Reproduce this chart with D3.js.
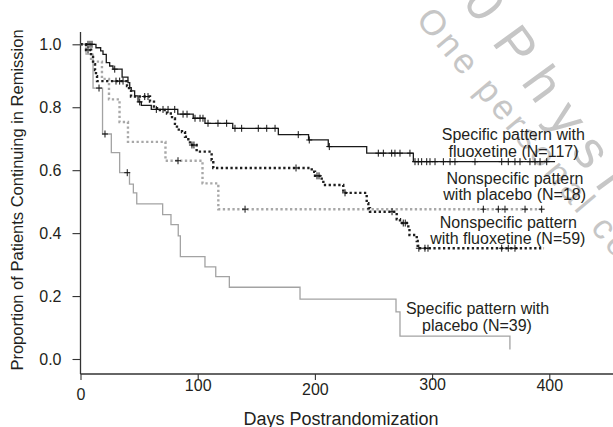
<!DOCTYPE html>
<html><head><meta charset="utf-8">
<script src="https://cdn.jsdelivr.net/npm/d3@7"></script>
<style>
body{margin:0;background:#fff}
svg{display:block}
text{font-family:"Liberation Sans",Arial,Helvetica,sans-serif;fill:#231f20}
</style>
</head><body>
<svg id="c" width="613" height="427"></svg>
<script>
// ---------- data ----------
const xTicks = [0, 100, 200, 300, 400];
const yTicks = [0, 0.2, 0.4, 0.6, 0.8, 1.0];

// Specific pattern with fluoxetine (N=117)
const specFluoxTimes = [0, 13.2, 17.2, 19.2, 22.0, 24.9, 27.7, 35.5, 40.5, 42.0, 43.3, 46.2, 49.1, 51.9, 60.4, 83.0, 96.2, 106.2, 129.9, 168.8, 194.6, 211.4, 244.2, 284.0, 404.9];
const specFluoxSurv  = [1, 0.989, 0.979, 0.968, 0.942, 0.931, 0.921, 0.896, 0.878, 0.862, 0.852, 0.836, 0.817, 0.806, 0.793, 0.778, 0.765, 0.749, 0.733, 0.713, 0.696, 0.675, 0.654, 0.627, 0.627];
const specFluoxCensor = [6.4, 8.1, 9.8, 29.2, 50.5, 64.7, 70.4, 74.7, 80.4, 87.5, 90.9, 97.7, 102.0, 104.5, 108.8, 117.3, 124.7, 131.8, 137.5, 151.7, 158.9, 166.0, 185.8, 195.2, 212.3, 254.1, 258.4, 265.5, 268.3, 272.6, 281.1, 285.4, 288.2, 291.1, 295.4, 298.2, 302.5, 309.6, 315.3, 319.5, 336.6, 359.4, 365.0, 370.7, 375.0, 383.5, 387.8, 392.1, 397.8];

// Nonspecific pattern with placebo (N=18)
const nonspecPlacTimes = [0, 9.0, 18.3, 24.3, 33.3, 40.5, 72.5, 104.1, 117.6, 395.5];
const nonspecPlacSurv  = [1, 0.945, 0.890, 0.825, 0.753, 0.690, 0.630, 0.558, 0.476, 0.476];
const nonspecPlacCensor = [83.2, 140.4, 343.7, 356.5, 362.2, 379.3, 393.5];

// Nonspecific pattern with fluoxetine (N=59)
const nonspecFluoxTimes = [0, 4.7, 9.0, 10.7, 12.4, 13.2, 14.1, 39.7, 41.4, 43.1, 59.3, 62.7, 65.3, 73.8, 78.1, 80.6, 82.3, 86.6, 89.2, 92.0, 93.4, 99.1, 111.9, 113.3, 197.3, 200.1, 205.8, 207.2, 224.2, 244.2, 245.6, 247.0, 269.8, 272.6, 279.7, 280.7, 286.9, 287.7, 395.5];
const nonspecFluoxSurv  = [1, 0.982, 0.960, 0.937, 0.918, 0.899, 0.883, 0.867, 0.852, 0.834, 0.818, 0.802, 0.791, 0.780, 0.764, 0.747, 0.729, 0.721, 0.706, 0.694, 0.680, 0.659, 0.632, 0.607, 0.595, 0.582, 0.569, 0.553, 0.528, 0.495, 0.479, 0.468, 0.444, 0.432, 0.416, 0.394, 0.375, 0.352, 0.352];
const nonspecFluoxCensor = [6.4, 30.3, 33.4, 36.3, 54.8, 57.6, 95.1, 96.8, 183.9, 201.8, 203.5, 225.7, 265.8, 275.4, 277.1, 288.7, 293.9, 296.5, 359.4, 365.0, 370.7];

// Specific pattern with placebo (N=39)
const specPlacTimes = [0, 4.7, 10.7, 18.8, 26.3, 33.4, 41.8, 45.1, 48.0, 70.1, 77.2, 83.4, 85.2, 106.2, 115.4, 127.0, 187.3, 269.2, 272.6, 366.4];
const specPlacSurv  = [1, 0.969, 0.861, 0.715, 0.656, 0.592, 0.556, 0.528, 0.493, 0.459, 0.427, 0.391, 0.325, 0.293, 0.262, 0.228, 0.190, 0.150, 0.073, 0.030];
const specPlacCensor = [15.8, 20.9, 39.9];

const seriesLabels = [
  ["Specific pattern with", "fluoxetine (N=117)"],
  ["Nonspecific pattern", "with placebo (N=18)"],
  ["Nonspecific pattern", "with fluoxetine (N=59)"],
  ["Specific pattern with", "placebo (N=39)"]
];
const xTitle = "Days Postrandomization";
const yTitle = "Proportion of Patients Continuing in Remission";
const watermark1a = "\u00A9 Copyright 2010";
const watermark1b = "Physicians Postgraduate Press, Inc.";
const watermark2 = "One personal copy may be printed";

// ---------- chart ----------
const svg = d3.select('#c');
svg.append('rect').attr('width', 613).attr('height', 427).attr('fill', '#fff');

const x = d3.scaleLinear().domain([0, 400]).range([80.5, 549.3]);
const y = d3.scaleLinear().domain([0, 1]).range([359, 44.3]);
const axisY = 374;

// watermark (behind everything)
const wmColor = '#c6c6c6';
const w1 = svg.append('g').attr('transform', 'translate(491,42) rotate(54)');
w1.append('text').attr('x', -6).attr('text-anchor', 'end')
  .style('font-size', '52px').style('letter-spacing', '15px').style('fill', wmColor).text(watermark1a);
w1.append('text').attr('text-anchor', 'start')
  .style('font-size', '52px').style('letter-spacing', '15px').style('fill', wmColor).text(watermark1b);
svg.append('g').attr('transform', 'translate(415,20) rotate(50)')
  .append('text').style('font-size', '35px').style('letter-spacing', '4px').style('fill', wmColor).text(watermark2);

// axes
const xLabelShift = [9, 0, 4, -1, 0];
const gx = svg.append('g').attr('transform', `translate(0,${axisY})`)
  .call(d3.axisBottom(x).tickValues(xTicks).tickSize(6).tickPadding(3).tickFormat(d3.format('d')));
gx.select('.domain').remove();
gx.selectAll('.tick line').attr('stroke', '#333').attr('stroke-width', 1.1);
gx.selectAll('.tick text').attr('y', (d, i) => 6 + xLabelShift[i]).style('font-size', '16px').attr('fill', '#231f20');
gx.append('line').attr('x1', x(0)).attr('x2', 613).attr('y1', 0).attr('y2', 0)
  .attr('stroke', '#333').attr('stroke-width', 1.3);

const gy = svg.append('g').attr('transform', `translate(${x(0)},0)`)
  .call(d3.axisLeft(y).tickValues(yTicks).tickSize(8).tickPadding(11).tickFormat(d3.format('.1f')));
gy.select('.domain').remove();
gy.selectAll('.tick line').attr('stroke', '#333').attr('stroke-width', 1.1);
gy.selectAll('.tick text').style('font-size', '16px').attr('fill', '#231f20');
gy.append('line').attr('x1', 0).attr('x2', 0).attr('y1', 32).attr('y2', axisY)
  .attr('stroke', '#333').attr('stroke-width', 1.3);

// axis titles
svg.append('text').attr('x', 341).attr('y', 425).attr('text-anchor', 'middle')
  .style('font-size', '18px').text(xTitle);
svg.append('text').attr('transform', 'translate(23,200) rotate(-90)').attr('text-anchor', 'middle')
  .style('font-size', '16.5px').text(yTitle);

// curves
const line = d3.line().x(d => x(d[0])).y(d => y(d[1])).curve(d3.curveStepAfter);
function survAt(times, surv, t) {
  let i = d3.bisectRight(times, t) - 1;
  if (i < 0) i = 0;
  return surv[i];
}
const series = [
  {t: specFluoxTimes, s: specFluoxSurv, c: specFluoxCensor, color: '#1a1a1a', w: 1.3, dash: null},
  {t: specPlacTimes, s: specPlacSurv, c: specPlacCensor, color: '#a3a3a3', w: 1.3, dash: null},
  {t: nonspecPlacTimes, s: nonspecPlacSurv, c: nonspecPlacCensor, color: '#a8a8a8', w: 2.4, dash: '2.3,2.5'},
  {t: nonspecFluoxTimes, s: nonspecFluoxSurv, c: nonspecFluoxCensor, color: '#1f1f1f', w: 2.4, dash: '2.3,2.5'}
];
series.forEach(sr => {
  const pts = sr.t.map((t, i) => [t, sr.s[i]]);
  svg.append('path').attr('d', line(pts)).attr('fill', 'none')
    .attr('stroke', sr.color).attr('stroke-width', sr.w)
    .attr('stroke-dasharray', sr.dash);
});
series.forEach(sr => {
  svg.append('g').selectAll('path').data(sr.c).join('path')
    .attr('d', t => {
      const px = x(t), py = y(survAt(sr.t, sr.s, t));
      return `M${px - 3},${py}h6M${px},${py - 3.5}v7`;
    })
    .attr('stroke', '#111').attr('stroke-width', 1).attr('fill', 'none');
});

// labels
const labelPos = [
  [[513.3, 140], [513.5, 156.5]],
  [[515, 183.5], [514.7, 199.5]],
  [[508.3, 228], [507.8, 244]],
  [[477.5, 314], [477, 331]]
];
seriesLabels.forEach((lines, i) => {
  lines.forEach((txt, j) => {
    svg.append('text').attr('x', labelPos[i][j][0]).attr('y', labelPos[i][j][1])
      .attr('text-anchor', 'middle').style('font-size', '16px').text(txt);
  });
});
</script>
</body></html>
